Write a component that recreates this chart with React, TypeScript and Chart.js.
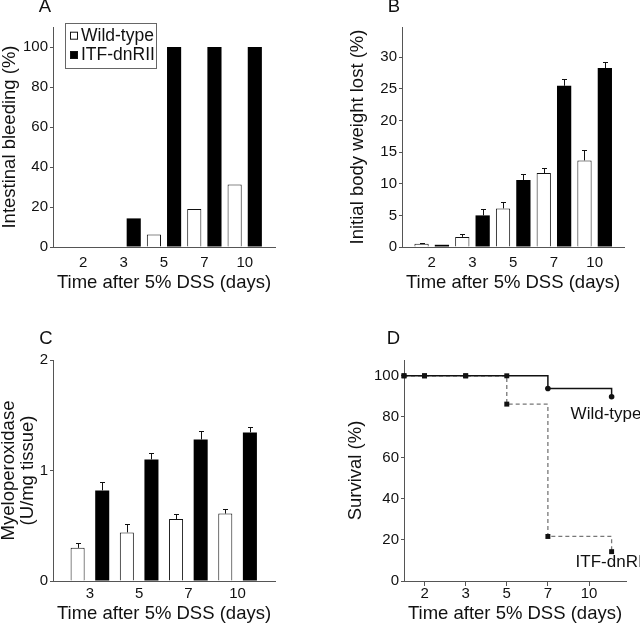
import React, { useEffect, useRef } from "react";
import { Chart, registerables } from "chart.js";

Chart.register(...registerables);

const FONT = "'Liberation Sans', Arial, Helvetica, sans-serif";
const INK = "#111111";
const AXIS = "#555555";

// ---------------- data ----------------
const DAYS = ["2", "3", "5", "7", "10"];
const MPO_DAYS = ["3", "5", "7", "10"];
const SERIES = ["Wild-type", "ITF-dnRII"];
const X_TITLE = "Time after 5% DSS (days)";

// A: intestinal bleeding (%)
const BLEED_WT = [0, 0, 6.3, 19, 31.3];
const BLEED_ITF = [0, 14.3, 100, 100, 100];
const BLEED_TICKS = [0, 20, 40, 60, 80, 100];

// B: initial body weight lost (%), mean and upper error
const WEIGHT_WT = [0.5, 1.6, 6.1, 11.7, 13.7];
const WEIGHT_WT_ERR = [0.2, 0.4, 1.05, 0.85, 1.6];
const WEIGHT_ITF = [0.35, 5.0, 10.6, 25.5, 28.3];
const WEIGHT_ITF_ERR = [0, 1.0, 0.95, 1.1, 1.0];
const WEIGHT_TICKS = [0, 5, 10, 15, 20, 25, 30];

// C: myeloperoxidase (U/mg tissue)
const MPO_WT = [0.3, 0.44, 0.56, 0.61];
const MPO_WT_ERR = [0.045, 0.08, 0.05, 0.045];
const MPO_ITF = [0.82, 1.1, 1.28, 1.345];
const MPO_ITF_ERR = [0.08, 0.06, 0.08, 0.045];
const MPO_TICKS = [0, 1, 2];

// D: survival (%); x = position on the day axis (0 = day 2 ... 4 = day 10)
const SURV_X = [-0.5, 0, 1, 2, 3, 4.55];
const SURV_WT = [100, 100, 100, 100, 93.8, 89.8];
const SURV_ITF = [100, 100, 100, 86.2, 21.7, 14.3];
const SURV_TICKS = [0, 20, 40, 60, 80, 100];
const WT_MARKERS = ["rect", "rect", "rect", "rect", "circle", "circle"];

// ---------------- plugins ----------------
const panelLetter = {
  id: "panelLetter",
  afterDraw(chart: any, _a: any, opts: any) {
    if (!opts || !opts.text) return;
    const ctx = chart.ctx;
    ctx.save();
    ctx.font = `${opts.size}px ${FONT}`;
    ctx.fillStyle = INK;
    ctx.textAlign = "center";
    ctx.textBaseline = "middle";
    ctx.fillText(opts.text, opts.x, opts.y);
    ctx.restore();
  },
};

const errorBars = {
  id: "errorBars",
  afterDatasetsDraw(chart: any, _a: any, opts: any) {
    const ctx = chart.ctx;
    const yScale = chart.scales.y;
    chart.data.datasets.forEach((ds: any, di: number) => {
      const errs = ds.errors;
      if (!errs) return;
      const meta = chart.getDatasetMeta(di);
      meta.data.forEach((bar: any, i: number) => {
        const e = errs[i];
        if (!e) return;
        const v = ds.data[i].y;
        const x = Math.round(bar.x) + 0.5;
        const yTop = Math.round(yScale.getPixelForValue(v + e)) + 0.5;
        ctx.save();
        ctx.strokeStyle = INK;
        ctx.lineWidth = 1;
        ctx.beginPath();
        ctx.moveTo(x, bar.y);
        ctx.lineTo(x, yTop);
        ctx.moveTo(x - opts.cap, yTop);
        ctx.lineTo(x + opts.cap, yTop);
        ctx.stroke();
        ctx.restore();
      });
    });
  },
};

const boxLegend = {
  id: "boxLegend",
  afterDraw(chart: any, _a: any, opts: any) {
    if (!opts || !opts.w) return;
    const ctx = chart.ctx;
    ctx.save();
    ctx.strokeStyle = "#666";
    ctx.lineWidth = 1;
    ctx.strokeRect(opts.x, opts.y, opts.w, opts.h);
    ctx.font = `${opts.size}px ${FONT}`;
    ctx.textBaseline = "middle";
    ctx.textAlign = "left";
    chart.data.datasets.forEach((ds: any, i: number) => {
      const cy = opts.rows[i];
      const s = opts.swatch;
      ctx.fillStyle = ds.backgroundColor;
      ctx.fillRect(opts.swatchX, cy - s / 2, s, s);
      ctx.strokeStyle = INK;
      ctx.strokeRect(opts.swatchX + 0.5, cy - s / 2 + 0.5, s - 1, s - 1);
      ctx.fillStyle = INK;
      ctx.fillText(ds.label, opts.textX, cy);
    });
    ctx.restore();
  },
};

const endLabels = {
  id: "endLabels",
  afterDatasetsDraw(chart: any, _a: any, opts: any) {
    const ctx = chart.ctx;
    ctx.save();
    ctx.font = `${opts.size}px ${FONT}`;
    ctx.fillStyle = INK;
    ctx.textAlign = "left";
    ctx.textBaseline = "middle";
    chart.data.datasets.forEach((ds: any, di: number) => {
      const meta = chart.getDatasetMeta(di);
      const last = meta.data[meta.data.length - 1];
      const off = opts.offsets[di];
      ctx.fillText(ds.label, last.x + off[0], last.y + off[1]);
    });
    ctx.restore();
  },
};

// ---------------- axis helpers ----------------
const tickFont = { family: FONT, size: 15, lineHeight: 1 };
const titleFont = { family: FONT, size: 18.5, lineHeight: 1 };

function yAxis(o: { max: number; ticks: number[]; title: string | string[]; width: number; titleOffset: number }) {
  return {
    type: "linear",
    min: 0,
    max: o.max,
    afterBuildTicks: (s: any) => {
      s.ticks = o.ticks.map((v) => ({ value: v }));
    },
    afterFit: (s: any) => {
      s.width = o.width;
    },
    ticks: { font: tickFont, color: INK, padding: 2 },
    grid: { display: true, drawOnChartArea: false, drawTicks: true, tickLength: 3, color: AXIS, lineWidth: 1 },
    border: { display: true, color: AXIS, width: 1 },
    title: { display: true, text: o.title, color: INK, font: titleFont, padding: { top: o.titleOffset, bottom: 0 } },
  };
}

function xAxis(o: { labels: string[]; min: number; max: number; height: number; tickLen: number; labelPad: number; titleBottom: number }) {
  return {
    type: "linear",
    min: o.min,
    max: o.max,
    offset: false,
    afterBuildTicks: (s: any) => {
      s.ticks = o.labels.map((_l, i) => ({ value: i }));
    },
    afterFit: (s: any) => {
      s.height = o.height;
    },
    ticks: {
      callback: (_v: any, i: number) => o.labels[i],
      autoSkip: false,
      maxRotation: 0,
      minRotation: 0,
      font: tickFont,
      color: INK,
      padding: o.labelPad,
    },
    grid: {
      display: o.tickLen > 0,
      offset: false,
      drawOnChartArea: false,
      drawTicks: o.tickLen > 0,
      tickLength: o.tickLen,
      color: AXIS,
    },
    border: { display: true, color: AXIS, width: 1 },
    title: { display: true, text: X_TITLE, color: INK, font: titleFont, padding: { top: 0, bottom: o.titleBottom } },
  };
}

function pairs(vals: number[]) {
  return vals.map((y, i) => ({ x: i, y }));
}

function barDatasets(wt: number[], itf: number[], wtErr?: number[], itfErr?: number[]) {
  return [
    { label: SERIES[0], data: pairs(wt), backgroundColor: "#ffffff", borderColor: INK, borderWidth: 1, errors: wtErr },
    { label: SERIES[1], data: pairs(itf), backgroundColor: "#000000", borderColor: "#000000", borderWidth: 0, errors: itfErr },
  ];
}

const baseOptions = {
  responsive: false,
  maintainAspectRatio: false,
  animation: false,
  devicePixelRatio: 1,
  events: [],
};

// ---------------- chart configs ----------------
function configA(): any {
  return {
    type: "bar",
    data: { datasets: barDatasets(BLEED_WT, BLEED_ITF) },
    options: {
      ...baseOptions,
      layout: { padding: { left: 0, top: 27, right: 45, bottom: 0 } },
      datasets: { bar: { categoryPercentage: 1, barPercentage: 0.7 } },
      plugins: {
        legend: { display: false },
        tooltip: { enabled: false },
        panelLetter: { text: "A", x: 45, y: 6.5, size: 18.5 },
        boxLegend: { x: 65.5, y: 23.5, w: 91, h: 45, rows: [35.7, 55], swatch: 8, swatchX: 70, textX: 81, size: 17.5 },
      },
      scales: {
        x: xAxis({ labels: DAYS, min: -0.75, max: 4.75, height: 64, tickLen: 0, labelPad: 8, titleBottom: 19 }),
        y: yAxis({ max: 110, ticks: BLEED_TICKS, title: "Intestinal bleeding (%)", width: 53, titleOffset: 0.5 }),
      },
    },
    plugins: [panelLetter, boxLegend],
  };
}

function configB(): any {
  return {
    type: "bar",
    data: { datasets: barDatasets(WEIGHT_WT, WEIGHT_ITF, WEIGHT_WT_ERR, WEIGHT_ITF_ERR) },
    options: {
      ...baseOptions,
      layout: { padding: { left: 0, top: 27, right: 16, bottom: 0 } },
      datasets: { bar: { categoryPercentage: 1, barPercentage: 0.7 } },
      plugins: {
        legend: { display: false },
        tooltip: { enabled: false },
        panelLetter: { text: "B", x: 74, y: 6.5, size: 18.5 },
        errorBars: { cap: 2.5 },
      },
      scales: {
        x: xAxis({ labels: DAYS, min: -0.73, max: 4.72, height: 64, tickLen: 0, labelPad: 8, titleBottom: 19 }),
        y: yAxis({ max: 34.8, ticks: WEIGHT_TICKS, title: "Initial body weight lost (%)", width: 82, titleOffset: 28.25 }),
      },
    },
    plugins: [panelLetter, errorBars],
  };
}

function configC(): any {
  return {
    type: "bar",
    data: { datasets: barDatasets(MPO_WT, MPO_ITF, MPO_WT_ERR, MPO_ITF_ERR) },
    options: {
      ...baseOptions,
      layout: { padding: { left: 0, top: 49, right: 45, bottom: 0 } },
      datasets: { bar: { categoryPercentage: 1, barPercentage: 0.57 } },
      plugins: {
        legend: { display: false },
        tooltip: { enabled: false },
        panelLetter: { text: "C", x: 46, y: 27.5, size: 18.5 },
        errorBars: { cap: 2.5 },
      },
      scales: {
        x: xAxis({ labels: MPO_DAYS, min: -0.75, max: 3.76, height: 42, tickLen: 0, labelPad: 5.7, titleBottom: 0 }),
        y: yAxis({ max: 2, ticks: MPO_TICKS, title: ["Myeloperoxidase", "(U/mg tissue)"], width: 53, titleOffset: 0 }),
      },
    },
    plugins: [panelLetter, errorBars],
  };
}

function configD(): any {
  return {
    type: "line",
    data: {
      datasets: [
        {
          label: SERIES[0],
          data: SURV_X.map((x, i) => ({ x, y: SURV_WT[i] })),
          stepped: true,
          borderColor: INK,
          borderWidth: 1.5,
          fill: false,
          pointStyle: WT_MARKERS,
          pointRadius: (c: any) => (WT_MARKERS[c.dataIndex] === "circle" ? 2.8 : 3.5),
          pointBackgroundColor: INK,
          pointBorderWidth: 0,
          clip: false,
        },
        {
          label: SERIES[1],
          data: SURV_X.map((x, i) => ({ x, y: SURV_ITF[i] })),
          stepped: true,
          borderColor: "#777777",
          borderWidth: 1.3,
          borderDash: [4, 3],
          fill: false,
          pointStyle: "rect",
          pointRadius: 3.5,
          pointBackgroundColor: INK,
          pointBorderWidth: 0,
          clip: false,
        },
      ],
    },
    options: {
      ...baseOptions,
      layout: { padding: { left: 0, top: 49, right: 14, bottom: 0 } },
      plugins: {
        legend: { display: false },
        tooltip: { enabled: false },
        panelLetter: { text: "D", x: 73.5, y: 27.5, size: 18.5 },
        endLabels: { size: 17, offsets: [[-41, 18], [-36, 11]] },
      },
      scales: {
        x: xAxis({ labels: DAYS, min: -0.5, max: 4.9, height: 42, tickLen: 5, labelPad: 0, titleBottom: 0 }),
        y: yAxis({ max: 107.7, ticks: SURV_TICKS, title: "Survival (%)", width: 84, titleOffset: 26.25 }),
      },
    },
    plugins: [panelLetter, endLabels],
  };
}

// ---------------- components ----------------
function Panel(props: { make: () => any; left: number; top: number; width: number; height: number }) {
  const ref = useRef<HTMLCanvasElement>(null);
  useEffect(() => {
    const chart = new Chart(ref.current as HTMLCanvasElement, props.make());
    return () => chart.destroy();
  }, []);
  const { left, top, width, height } = props;
  return (
    <canvas
      ref={ref}
      width={width}
      height={height}
      style={{ position: "absolute", left, top, width, height, display: "block" }}
    />
  );
}

export default function App() {
  return (
    <div style={{ position: "absolute", left: 0, top: 0, width: 640, height: 623, background: "#ffffff", overflow: "hidden" }}>
      <Panel make={configA} left={0} top={0} width={320} height={311} />
      <Panel make={configB} left={320} top={0} width={320} height={311} />
      <Panel make={configC} left={0} top={311} width={320} height={312} />
      <Panel make={configD} left={320} top={311} width={320} height={312} />
    </div>
  );
}
